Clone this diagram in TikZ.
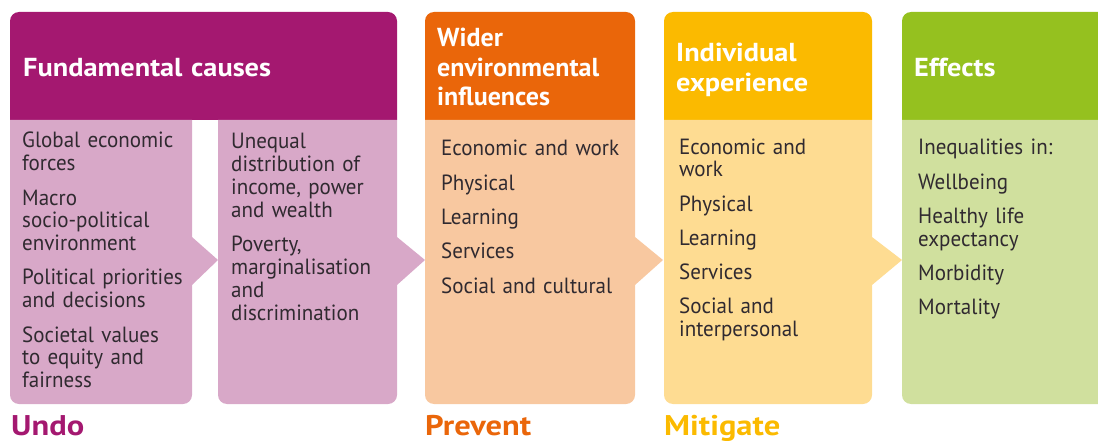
\documentclass[tikz,border=0pt]{standalone}
\usepackage{fontspec}
\setmainfont{PT Sans}
\newfontfamily\bodyfont{PT Sans}[FakeStretch=0.955]
\newfontfamily\titlefont{PT Sans}[FakeStretch=1.09]
\newfontfamily\actionfont{PT Sans}[FakeStretch=1.14]
\definecolor{causeDark}{RGB}{164,24,112}
\definecolor{causeLight}{RGB}{216,168,200}
\definecolor{wideDark}{RGB}{234,102,10}
\definecolor{wideLight}{RGB}{248,200,160}
\definecolor{indDark}{RGB}{251,186,0}
\definecolor{indLight}{RGB}{254,220,146}
\definecolor{effDark}{RGB}{149,193,31}
\definecolor{effLight}{RGB}{208,224,158}
\definecolor{ink}{RGB}{48,42,48}
\begin{document}
\begin{tikzpicture}[x=1pt,y=-1pt,
  hdrtext/.style={anchor=base west, inner sep=0pt, text=white, align=left,
    text width=300pt, font=\titlefont\bfseries\fontsize{26}{29.5}\selectfont},
  narrowhdr/.style={hdrtext, font=\bfseries\fontsize{26}{29.5}\selectfont},
  bodytext/.style={anchor=base west, inner sep=0pt, text=ink, align=left,
    text width=200pt, font=\bodyfont\fontsize{22}{22.8}\selectfont},
  actiontext/.style={anchor=base west, inner sep=0pt, font=\actionfont\bfseries\fontsize{28.5}{30}\selectfont}]
\useasboundingbox (0,0) rectangle (1098,441);
\clip (0,0) rectangle (1098,441);

% header bands (rounded top corners)
\fill[causeDark] (10,120) -- (10,60) {[rounded corners=9pt] -- (10,12) -- (397,12) -- (397,60)} -- (397,120) -- cycle;
\fill[wideDark] (425,120) -- (425,60) {[rounded corners=9pt] -- (425,12) -- (635,12) -- (635,60)} -- (635,120) -- cycle;
\fill[indDark] (664,120) -- (664,60) {[rounded corners=9pt] -- (664,12) -- (872,12) -- (872,60)} -- (872,120) -- cycle;
\fill[effDark] (902,120) -- (902,60) {[rounded corners=9pt] -- (902,12) -- (1115,12) -- (1115,60)} -- (1115,120) -- cycle;

% body panels with arrow notches (rounded bottom corners)
\fill[causeLight] (10,120) -- (192,120) -- (192,237) -- (218,260) -- (192,285) -- (192,320)
  {[rounded corners=9pt] -- (192,404) -- (10,404) -- (10,320)} -- cycle;
\fill[causeLight] (218,120) -- (397,120) -- (397,237) -- (425,260) -- (397,285) -- (397,320)
  {[rounded corners=9pt] -- (397,404) -- (218,404) -- (218,320)} -- cycle;
\fill[wideLight] (425,120) -- (635,120) -- (635,237) -- (663,260) -- (635,285) -- (635,320)
  {[rounded corners=9pt] -- (635,404) -- (425,404) -- (425,320)} -- cycle;
\fill[indLight] (664,120) -- (872,120) -- (872,237) -- (902,260) -- (872,285) -- (872,320)
  {[rounded corners=9pt] -- (872,404) -- (664,404) -- (664,320)} -- cycle;
\fill[effLight] (902,120) -- (1115,120) -- (1115,320)
  {[rounded corners=9pt] -- (1115,404) -- (902,404) -- (902,320)} -- cycle;

% header titles
\node[hdrtext] (hcause) at (23,77) {Fundamental causes};
\node[narrowhdr] (hwide) at (437,47) {Wider\\environmental\\influences};
\node[hdrtext] (hind) at (676,62) {Individual\\experience};
\node[hdrtext] (heff) at (914,77) {Effects};

% panel contents
\node[bodytext] (cause1) at (22,148) {Global economic\\forces\\[11.5pt]
  Macro\\socio-political\\environment\\[11.5pt]
  Political priorities\\and decisions\\[11.5pt]
  Societal values\\to equity and\\fairness};
\node[bodytext] (cause2) at (231,149) {Unequal\\distribution of\\income, power\\and wealth\\[11.5pt]
  Poverty,\\marginalisation\\and\\discrimination};
\node[bodytext] (wide) at (441,156) {Economic and work\\[11.5pt]Physical\\[11.5pt]Learning\\[11.5pt]Services\\[11.5pt]Social and cultural};
\node[bodytext] (ind) at (679,154) {Economic and\\work\\[11.5pt]Physical\\[11.5pt]Learning\\[11.5pt]Services\\[11.5pt]Social and\\interpersonal};
\node[bodytext] (eff) at (918,155) {Inequalities in:\\[11.5pt]Wellbeing\\[11.5pt]Healthy life\\expectancy\\[11.5pt]Morbidity\\[11.5pt]Mortality};

% actions
\node[actiontext, text=causeDark] (undo) at (11,435) {Undo};
\node[actiontext, text=wideDark] (prevent) at (425,435) {Prevent};
\node[actiontext, text=indDark] (mitigate) at (664,435) {Mitigate};
\end{tikzpicture}
\end{document}
